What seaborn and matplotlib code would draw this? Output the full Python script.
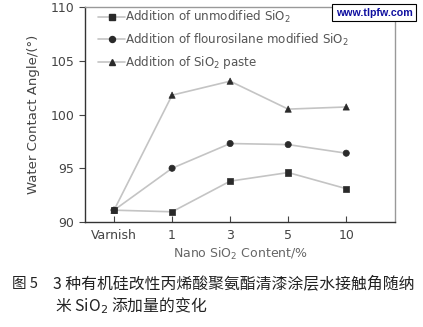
import matplotlib
matplotlib.use("Agg")
import matplotlib.pyplot as plt
import seaborn as sns
import pandas as pd
from matplotlib.lines import Line2D

categories = ["Varnish", "1", "3", "5", "10"]
unmodified = [91.1, 90.95, 93.8, 94.6, 93.1]
fluorosilane = [91.1, 95.0, 97.3, 97.2, 96.4]
paste = [91.1, 101.8, 103.1, 100.5, 100.7]
series_names = ["Addition of unmodified SiO$_2$",
                "Addition of flourosilane modified SiO$_2$",
                "Addition of SiO$_2$ paste"]
yticks = [90, 95, 100, 105, 110]

rows = []
for name, vals in zip(series_names, [unmodified, fluorosilane, paste]):
    for i, (c, v) in enumerate(zip(categories, vals)):
        rows.append({"series": name, "x": i, "cat": c, "y": v})
df = pd.DataFrame(rows)

sns.set_style("ticks")
plt.rcParams['font.family'] = ['DejaVu Sans', 'Noto Sans CJK SC']

fig = plt.figure(figsize=(4.23, 3.27), dpi=100)
ax = fig.add_axes([85/423, 1-222/327, (395-85)/423, (222-7)/327])

markers = {series_names[0]: "s", series_names[1]: "o", series_names[2]: "^"}
line_col = "#c4c4c4"
mk_col = "#2a2a2a"
sns.lineplot(data=df, x="x", y="y", hue="series", style="series",
             markers=markers, dashes=False,
             palette=[line_col]*3, markersize=0, linewidth=1.2,
             ax=ax, legend=False)
sns.scatterplot(data=df, x="x", y="y", style="series", markers=markers,
                color=mk_col, s=20, edgecolor=mk_col, linewidth=0.5,
                ax=ax, legend=False, zorder=5)

handles = [Line2D([0], [0], color=line_col, lw=1.2, marker=markers[n],
                  markerfacecolor=mk_col, markeredgecolor=mk_col,
                  markersize=4.3) for n in series_names]
leg = ax.legend(handles, series_names, loc="upper left", frameon=False,
                fontsize=8.6, handlelength=2.2, handletextpad=0.05,
                labelspacing=0.52, borderaxespad=0.0,
                bbox_to_anchor=(0.028, 1.012))
for t in leg.get_texts():
    t.set_color("#555555")

ax.set_xlim(-0.5, 4.84)
ax.set_ylim(90, 110)
ax.set_xticks(range(len(categories)))
ax.set_xticklabels(categories)
ax.set_yticks(yticks)
ax.tick_params(axis="x", direction="in", length=4, labelsize=9, colors="#444444", pad=5)
ax.tick_params(axis="y", direction="out", length=4, labelsize=9, colors="#444444")
for s in ["left", "bottom"]:
    ax.spines[s].set_color("#333333")
    ax.spines[s].set_linewidth(1.0)
for s in ["top", "right"]:
    ax.spines[s].set_visible(True)
    ax.spines[s].set_color("#999999")
    ax.spines[s].set_linewidth(1.0)
ax.set_xlabel("Nano SiO$_2$ Content/%", fontsize=9, color="#666666", labelpad=3)
ax.set_ylabel("Water Contact Angle/(°)", fontsize=9.5, color="#444444", labelpad=8)

fig.text(374/423, 1-12.5/327, "www.tlpfw.com", ha="center", va="center",
         fontsize=7.7, fontweight="bold", family=["Liberation Sans"], color="#1010a0",
         bbox=dict(boxstyle="square,pad=0.3", fc="white", ec="black", lw=0.8),
         zorder=10)

cjk = ['Noto Sans CJK SC', 'DejaVu Sans']
fig.text(12/423, 1-284/327, "图 5", fontsize=10.5, family=cjk, va="center", color="#222222")
fig.text(53/423, 1-284/327, "3 种有机硅改性丙烯酸聚氨酯清漆涂层水接触角随纳",
         fontsize=11.4, family=cjk, va="center", color="#222222")
fig.text(55/423, 1-306/327, "米 SiO$_2$ 添加量的变化",
         fontsize=11.4, family=cjk, va="center", color="#222222")

fig.savefig("out.png", dpi=100)
